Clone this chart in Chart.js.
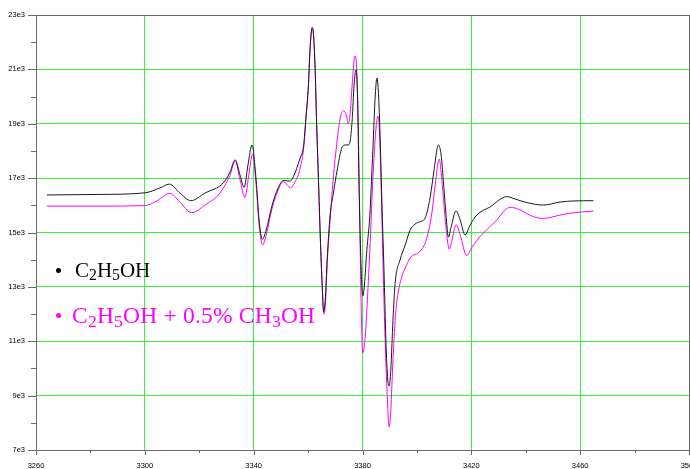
<!DOCTYPE html>
<html>
<head>
<meta charset="utf-8">
<script src="https://cdn.jsdelivr.net/npm/chart.js@4.4.1/dist/chart.umd.min.js"></script>
<style>
html,body{margin:0;padding:0;background:#fff;}
#wrap{position:relative;width:690px;height:469px;overflow:hidden;}
canvas{display:block;}
.leg{position:absolute;font-family:"Liberation Serif","Times New Roman",serif;white-space:nowrap;line-height:1;}
.leg sub{font-size:75%;vertical-align:baseline;position:relative;top:0.22em;}
.dot{position:absolute;width:5px;height:5px;border-radius:50%;}
</style>
</head>
<body>
<div id="wrap">
<canvas id="c" width="690" height="469"></canvas>
<div class="dot" style="left:56px;top:268px;background:#000;"></div>
<div class="leg" style="left:75px;top:260px;font-size:21px;color:#000;">C<sub>2</sub>H<sub>5</sub>OH</div>
<div class="dot" style="left:56px;top:313px;background:#ff00ff;"></div>
<div class="leg" style="left:72px;top:304px;font-size:23.5px;letter-spacing:0.2px;color:#ff00ff;">C<sub>2</sub>H<sub>5</sub>OH + 0.5% CH<sub>3</sub>OH</div>
</div>
<script>
// ---- data (magnetic field in G, signal intensity) ----
const fieldEthanol = [3264.0,3283.5,3300.1,3305.6,3309.0,3312.9,3316.9,3322.1,3328.9,3331.3,3333.2,3335.0,3336.5,3337.9,3339.4,3340.9,3342.0,3343.2,3344.6,3346.8,3349.0,3350.9,3353.4,3354.6,3357.1,3358.3,3359.3,3360.1,3360.7,3361.5,3362.0,3362.6,3363.1,3363.7,3364.4,3365.1,3365.7,3366.3,3367.0,3368.1,3369.3,3370.7,3372.4,3373.6,3374.7,3375.4,3376.2,3376.9,3377.6,3378.2,3378.7,3379.4,3380.1,3380.7,3381.6,3382.7,3383.8,3384.7,3385.3,3385.8,3386.4,3387.1,3387.9,3388.6,3389.3,3389.8,3390.4,3391.2,3392.0,3393.8,3395.7,3397.5,3399.3,3401.2,3403.0,3404.9,3406.3,3407.9,3408.9,3409.7,3410.7,3411.6,3412.5,3414.4,3415.9,3417.7,3419.6,3422.0,3426.9,3433.0,3436.1,3440.4,3446.5,3452.6,3457.5,3464.9];
const signalEthanol = [16.38,16.40,16.46,16.64,16.78,16.45,16.17,16.45,16.83,17.22,17.67,17.11,16.66,17.48,18.22,16.93,15.46,14.75,15.09,16.01,16.64,16.91,16.89,17.05,17.74,18.16,19.32,20.36,21.71,22.52,22.26,20.98,19.14,17.30,15.09,13.25,12.08,12.52,13.99,15.64,16.45,17.30,18.11,18.22,18.22,18.33,19.14,20.42,20.98,19.87,16.82,13.99,12.66,13.07,14.36,15.64,18.03,20.06,20.68,20.24,18.77,16.20,13.62,11.05,9.57,9.35,9.94,11.78,13.14,13.99,14.54,15.09,15.31,15.40,15.53,16.31,17.30,18.22,17.85,16.93,15.64,14.83,15.17,15.80,15.46,14.91,15.28,15.64,15.94,16.32,16.23,16.10,16.01,16.12,16.16,16.17];
const fieldMix = [3264.0,3283.5,3300.1,3303.7,3309.3,3312.9,3317.2,3322.1,3327.6,3331.3,3333.2,3335.0,3336.8,3338.2,3339.6,3340.9,3342.0,3343.3,3344.6,3346.8,3349.0,3350.9,3353.6,3355.2,3357.1,3358.5,3359.3,3360.1,3360.7,3361.5,3362.0,3362.6,3363.1,3363.7,3364.4,3365.1,3365.9,3366.4,3367.1,3368.1,3369.2,3370.7,3371.8,3373.0,3374.0,3374.8,3375.4,3376.2,3376.9,3377.3,3377.8,3378.4,3378.9,3379.4,3380.1,3380.9,3381.6,3382.7,3383.8,3384.9,3385.7,3386.2,3386.8,3387.5,3388.2,3389.0,3389.8,3390.4,3391.2,3392.0,3392.7,3394.4,3395.7,3397.5,3401.2,3403.4,3405.5,3406.7,3408.2,3409.0,3409.7,3410.7,3411.9,3412.9,3414.4,3415.9,3418.3,3420.3,3423.2,3428.7,3434.3,3437.9,3442.8,3446.5,3452.6,3456.3,3464.9];
const signalMix = [15.97,15.97,15.99,16.12,16.44,16.12,15.73,16.01,16.45,17.11,17.64,16.93,16.29,17.11,17.89,16.75,15.28,14.54,14.91,15.90,16.56,16.87,16.65,16.86,17.37,18.22,19.32,20.36,21.71,22.56,22.26,20.98,19.14,17.30,15.09,13.25,12.00,12.44,13.99,15.46,16.93,18.40,19.21,19.48,19.32,18.99,19.32,20.42,21.34,21.49,21.16,19.14,16.20,12.88,10.57,11.05,12.15,14.36,16.93,18.77,19.28,18.77,16.93,13.99,11.41,9.21,7.85,8.47,10.31,11.78,12.52,13.36,13.69,14.06,14.32,14.72,15.72,16.75,17.70,17.11,16.31,15.17,14.39,14.72,15.28,14.91,14.15,14.47,14.85,15.39,15.93,15.83,15.58,15.52,15.64,15.71,15.79];
const xMajorTicks = [3260,3300,3340,3380,3420,3460,3500];
const xMinorTicks = [3280,3320,3360,3400,3440,3480];
const yMajorTicks = [7,9,11,13,15,17,19,21,23];
const yMinorTicks = [8,10,12,14,16,18,20,22];

const toPts = (xs, ys) => xs.map((x, i) => ({x: x, y: ys[i] * 1000}));

const AXIS = '#6a6a6a';
const GRID = '#3cf03c';

const tickPlugin = {
  id: 'minorTicks',
  afterDraw(chart) {
    const {ctx, scales: {x, y}, chartArea: a} = chart;
    ctx.save();
    ctx.strokeStyle = AXIS;
    ctx.lineWidth = 1;
    ctx.beginPath();
    const xl = (v, len) => { const p = Math.round(x.getPixelForValue(v)) + 0.5; ctx.moveTo(p, a.bottom); ctx.lineTo(p, a.bottom + len); };
    const yl = (v, len) => { const p = Math.round(y.getPixelForValue(v * 1000)) + 0.5; ctx.moveTo(a.left - len, p); ctx.lineTo(a.left, p); };
    xMajorTicks.forEach(v => xl(v, 5));
    xMinorTicks.forEach(v => xl(v, 3));
    yMajorTicks.forEach(v => yl(v, 8));
    yMinorTicks.forEach(v => yl(v, 5));
    ctx.stroke();
    ctx.restore();
  }
};

new Chart(document.getElementById('c'), {
  type: 'line',
  data: {
    datasets: [
      {label: 'C2H5OH', data: toPts(fieldEthanol, signalEthanol), borderColor: '#1a1a1a', borderWidth: 1, pointRadius: 0, cubicInterpolationMode: 'monotone', fill: false},
      {label: 'C2H5OH + 0.5% CH3OH', data: toPts(fieldMix, signalMix), borderColor: '#ff00ff', borderWidth: 1, pointRadius: 0, cubicInterpolationMode: 'monotone', fill: false}
    ]
  },
  options: {
    responsive: false,
    animation: false,
    events: [],
    layout: {padding: {top: 15, right: 1, left: 0, bottom: 0}},
    plugins: {legend: {display: false}, tooltip: {enabled: false}},
    scales: {
      x: {
        type: 'linear', min: 3260, max: 3500,
        afterBuildTicks: s => { s.ticks = xMajorTicks.map(v => ({value: v})); },
        afterFit: s => { s.height = 19; s.paddingLeft = 0; s.paddingRight = 0; },
        grid: {drawTicks: false, color: c => (c.tick && (c.tick.value === 3500)) ? AXIS : GRID, lineWidth: 1},
        border: {color: AXIS, width: 1},
        ticks: {padding: 11, maxRotation: 0, autoSkip: false, color: '#000', font: {family: 'Liberation Sans, Arial, sans-serif', size: 7.5}, callback: v => String(v)}
      },
      y: {
        type: 'linear', min: 7000, max: 23000,
        afterBuildTicks: s => { s.ticks = yMajorTicks.map(v => ({value: v * 1000})); },
        afterFit: s => { s.width = 36; s.paddingTop = 0; s.paddingBottom = 0; },
        grid: {drawTicks: false, color: c => (c.tick && (c.tick.value === 23000)) ? AXIS : GRID, lineWidth: 1},
        border: {color: AXIS, width: 1},
        ticks: {padding: 11, autoSkip: false, color: '#000', font: {family: 'Liberation Sans, Arial, sans-serif', size: 7.5}, callback: v => (v / 1000) + 'e3'}
      }
    }
  },
  plugins: [tickPlugin]
});
</script>
</body>
</html>
